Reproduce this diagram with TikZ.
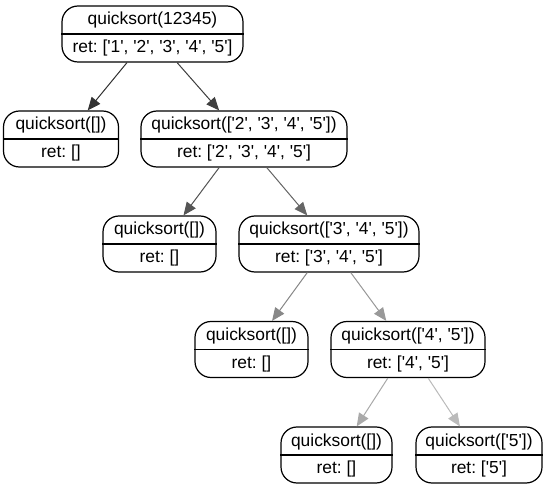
\documentclass[tikz,border=0pt]{standalone}
\usepackage{fontspec}
\newfontfamily\labelfont{Liberation Sans}
\usetikzlibrary{calc,arrows.meta}
\newcommand\sq{\textquotesingle}
\frenchspacing
\begin{document}
\begin{tikzpicture}[x=1pt,y=-1pt,
  recbox/.style={draw=black,line width=1.2pt,rounded corners=16pt,minimum height=56pt,inner sep=0pt},
  divider/.style={draw=black,line width=1.2pt},
  rectext/.style={inner sep=0pt,font=\labelfont\fontsize{17.4}{20}\selectfont\frenchspacing,anchor=center},
  edge/.style={line width=1pt,-{Triangle[length=13pt,width=11pt]},shorten >=0pt}]
\useasboundingbox (0,0) rectangle (549,489);
% record node: name, centre x, centre y, width, call, result
\newcommand\recnode[6]{%
  \node[recbox,minimum width=#4pt] (#1) at (#2,#3) {};
  \draw[divider] (#1.west) -- (#1.east);
  \node[rectext] (#1-call) at (#2,{#3-13.5}) {#5};
  \node[rectext] (#1-ret) at (#2,{#3+14}) {#6};}
% edge from a fraction of the parent's bottom to a fraction of the child's top
\newcommand\calledge[5]{%
  \draw[edge,draw=#5,fill=#5] ($(#1.south west)!#2!(#1.south east)$) -- ($(#3.north west)!#4!(#3.north east)$);}

\recnode{root}{152.5}{34}{181}{quicksort(12345)}{ret: [\sq1\sq, \sq2\sq, \sq3\sq, \sq4\sq, \sq5\sq]}
\recnode{a}{61}{139}{115}{quicksort([])}{ret: []}
\recnode{b}{244}{139}{206}{quicksort([\sq2\sq, \sq3\sq, \sq4\sq, \sq5\sq])}{ret: [\sq2\sq, \sq3\sq, \sq4\sq, \sq5\sq]}
\recnode{c}{159.5}{244}{113}{quicksort([])}{ret: []}
\recnode{d}{329}{244}{180}{quicksort([\sq3\sq, \sq4\sq, \sq5\sq])}{ret: [\sq3\sq, \sq4\sq, \sq5\sq]}
\recnode{e}{251.5}{349.5}{113}{quicksort([])}{ret: []}
\recnode{f}{408}{349.5}{154}{quicksort([\sq4\sq, \sq5\sq])}{ret: [\sq4\sq, \sq5\sq]}
\recnode{g}{336.5}{455}{111}{quicksort([])}{ret: []}
\recnode{h}{479}{455}{126}{quicksort([\sq5\sq])}{ret: [\sq5\sq]}

\definecolor{e1}{HTML}{333333}
\definecolor{e2}{HTML}{404040}
\definecolor{e3}{HTML}{555555}
\definecolor{e4}{HTML}{666666}
\definecolor{e5}{HTML}{888888}
\definecolor{e6}{HTML}{999999}
\definecolor{e7}{HTML}{AAAAAA}
\definecolor{e8}{HTML}{BBBBBB}

\calledge{root}{.36}{a}{.73}{e1}
\calledge{root}{.635}{b}{.38}{e2}
\calledge{b}{.38}{c}{.71}{e3}
\calledge{b}{.61}{d}{.38}{e4}
\calledge{d}{.38}{e}{.68}{e5}
\calledge{d}{.62}{f}{.36}{e6}
\calledge{f}{.37}{g}{.68}{e7}
\calledge{f}{.63}{h}{.35}{e8}
\end{tikzpicture}
\end{document}
